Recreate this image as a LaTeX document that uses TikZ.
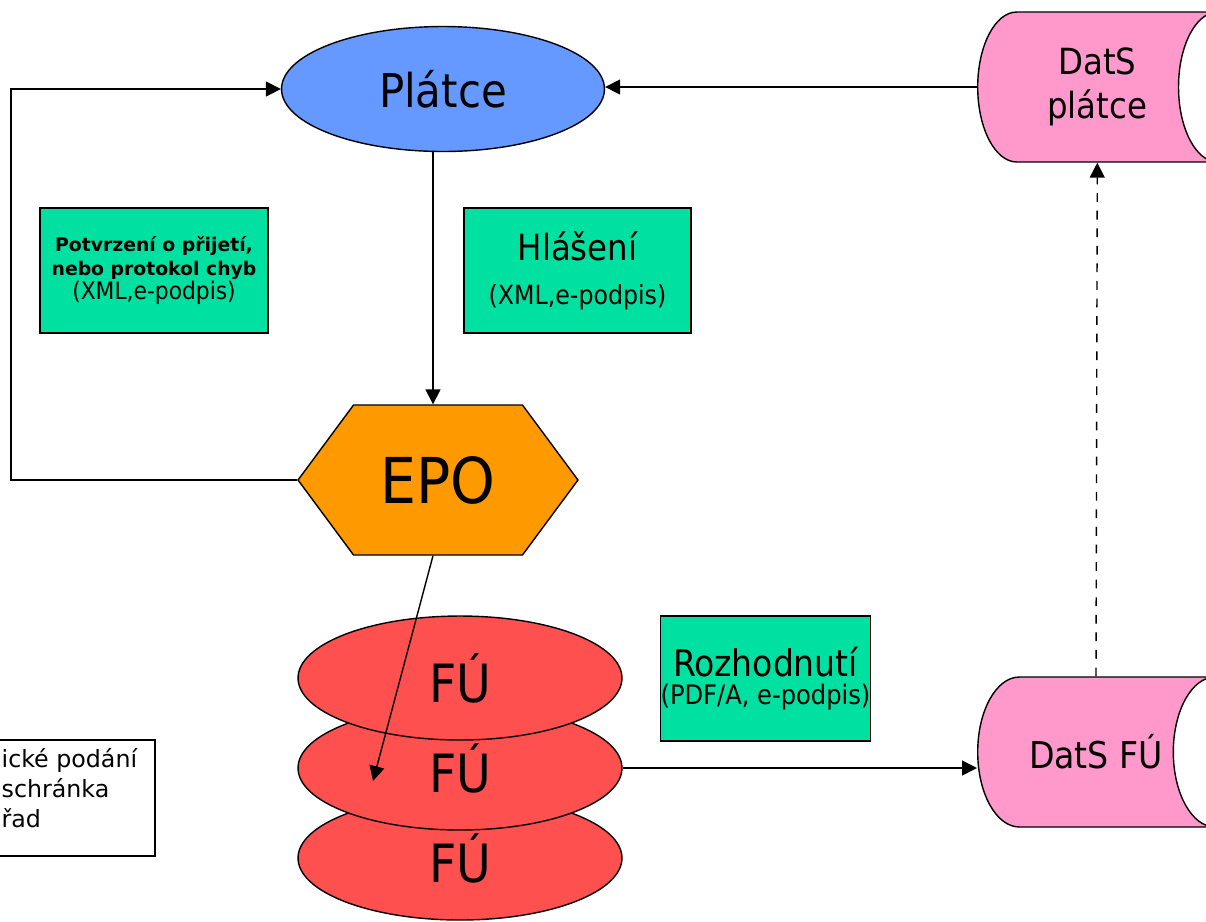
\documentclass[tikz,border=0pt]{standalone}
\usepackage{fontspec}
\setmainfont{DejaVu Sans Condensed}
\newfontfamily\widefont{DejaVu Sans}
\usepackage{xcolor}
\usetikzlibrary{arrows.meta,shapes.geometric,shapes.symbols,calc}

\definecolor{platblue}{RGB}{102,153,255}
\definecolor{zpravagreen}{RGB}{0,224,160}
\definecolor{epoorange}{RGB}{255,153,0}
\definecolor{fured}{RGB}{255,80,80}
\definecolor{datspink}{RGB}{255,153,204}

\begin{document}
\begin{tikzpicture}[x=0.02cm,y=-0.02cm,line width=0.8pt,
  >={Triangle[length=8.5pt,width=8.5pt]},
  zprava/.style={draw,fill=zpravagreen,minimum height=2.5cm,align=center,inner sep=0pt},
  urad/.style={ellipse,draw,fill=fured,minimum width=6.48cm,minimum height=2.48cm,inner sep=0pt,
    font=\fontsize{30}{32}\selectfont},
  datsbox/.style={cylinder,draw,cylinder uses custom fill,cylinder body fill=datspink,
    cylinder end fill=white,minimum width=3cm,minimum height=5.58cm,inner sep=0pt,
    anchor=west,align=center}]
\useasboundingbox (0,0) rectangle (1206,921);
\clip (0,0) rectangle (1206,921);

\node[ellipse,draw,fill=platblue,minimum width=6.46cm,minimum height=2.5cm,inner sep=0pt,
  font=\fontsize{26.5}{30}\selectfont] (plat) at (443,89) {Plátce};
\node[signal,signal to=east and west,signal pointer angle=107,draw,fill=epoorange,
  minimum width=5.6cm,minimum height=3cm,inner sep=0pt,
  font=\fontsize{36}{40}\selectfont] (epo) at (438,480) {EPO};

\node[zprava,minimum width=4.56cm,font=\fontsize{10.7}{14}\selectfont] (potv) at (154,270.5)
  {\widefont\bfseries Potvrzení o přijetí,\\
   \widefont\bfseries nebo protokol chyb\\[-0.5pt]
   \fontsize{13.8}{14}\selectfont (XML,e-podpis)};
\node[zprava,minimum width=4.54cm,font=\fontsize{15}{25}\selectfont] (hlas) at (577.5,270.5)
  {\fontsize{20.5}{25}\selectfont Hlášení\\
   (XML,e-podpis)};
\node[zprava,minimum width=4.18cm,font=\fontsize{15.3}{16}\selectfont] (rozh) at (765.5,678.5)
  {\fontsize{20.9}{16}\selectfont Rozhodnutí\\
   (PDF/A, e-podpis)};

% FU stack, bottom first
\node[urad] (fu3) at (460,858) {FÚ};
\node[urad] (fu2) at (460,768) {FÚ};
\node[urad] (fu1) at (460,678) {FÚ};

\node[datsbox,aspect=1,font=\fontsize{20.5}{25}\selectfont] (datsP) at (977,87) {DatS\\plátce};
\node[datsbox,aspect=2.4,font=\fontsize{21}{25}\selectfont] (datsF) at (977,752) {DatS FÚ};

\draw (-10,740) rectangle (155,856);
\node[anchor=base west,align=left,inner sep=0pt,font=\widefont\fontsize{13.5}{16.8}\selectfont]
  (legend) at (1,827) {ické podání\\schránka\\řad};

\coordinate (platS) at ($(plat.south)+(-10,0)$);
\coordinate (epoS) at ($(epo.south)+(-5,0)$);
\coordinate (fuIn) at (373,781);

\draw[->] (platS) -- (platS |- epo.north);
\draw[->] (epo.west) -- ++(-286,0) |- (plat.west);
\draw[->] (datsP.west) -- (datsP.west -| plat.east);
\draw[->] (epoS) -- (fuIn);
\draw[->] (fu2.east) -- (fu2.east -| datsF.west);
\draw[->,dash pattern=on 5pt off 5pt] (datsF.north) -- (datsP.south);
\end{tikzpicture}
\end{document}
